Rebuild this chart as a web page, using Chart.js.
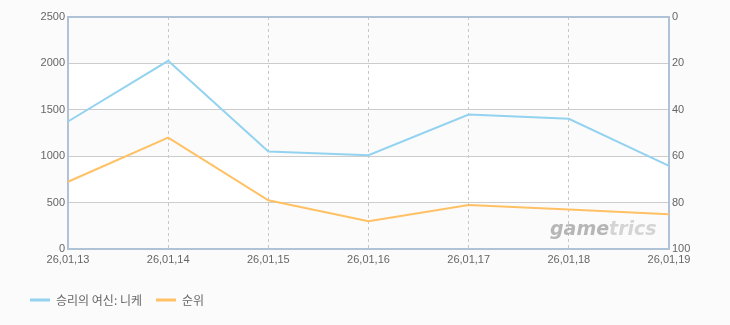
<!DOCTYPE html>
<html>
<head>
<meta charset="utf-8">
<script src="https://cdn.jsdelivr.net/npm/chart.js@4.4.0/dist/chart.umd.min.js"></script>
<style>
	html, body { margin:0; padding:0; background:#fbfbfb; }
	#wrap { width:730px; height:325px; }
</style>
</head>
<body>
<div id="wrap"><canvas id="myChart" width="730" height="325"></canvas></div>
<script>
// data
var dates = ["26,01,13", "26,01,14", "26,01,15", "26,01,16", "26,01,17", "26,01,18", "26,01,19"];
var nikkeValues = [1374, 2028, 1051, 1011, 1449, 1403, 896];
var rankValues = [71, 52, 79, 88, 81, 83, 85];
var seriesNames = ["승리의 여신: 니케", "순위"];

var tickFont = { family:'"Liberation Sans", Arial, sans-serif', size:11 };

// bands, frame and watermark
var decor = {
	id:'decor',
	beforeDraw:function(chart){
		var ctx = chart.ctx, a = chart.chartArea, y = chart.scales.y;
		ctx.save();
		ctx.fillStyle = '#fbfbfb';
		ctx.fillRect(0, 0, chart.width, chart.height);
		for(var v = 0; v < 2500; v += 500){
			var top = y.getPixelForValue(v + 500), bot = y.getPixelForValue(v);
			ctx.fillStyle = (v / 500) % 2 == 0 ? '#fbfbfb' : '#ffffff';
			ctx.fillRect(a.left, top, a.right - a.left, bot - top);
		}
		ctx.restore();
	},
	beforeDatasetsDraw:function(chart){
		var ctx = chart.ctx, a = chart.chartArea;
		ctx.save();
		ctx.font = 'italic bold 19px "DejaVu Sans", sans-serif';
		ctx.textBaseline = 'alphabetic';
		ctx.fillStyle = 'rgba(165,165,165,0.8)';
		ctx.fillText('game', a.right - 119, a.bottom - 14);
		var w = ctx.measureText('game').width;
		ctx.fillStyle = 'rgba(195,195,195,0.7)';
		ctx.fillText('trics', a.right - 119 + w, a.bottom - 14);
		ctx.restore();
	},
	afterDraw:function(chart){
		var ctx = chart.ctx, a = chart.chartArea;
		ctx.save();
		ctx.strokeStyle = '#b0c2d6';
		ctx.lineWidth = 2;
		ctx.beginPath();
		ctx.moveTo(a.left - 1, a.top);
		ctx.lineTo(a.right + 1, a.top);
		ctx.stroke();
		ctx.restore();
	}
};

var ctx = document.getElementById('myChart').getContext('2d');
var chart = new Chart(ctx, {
	type:'line',
	data:{
		labels:dates,
		datasets:[{
			label:seriesNames[0],
			data:nikkeValues,
			borderColor:'#93d3f0',
			backgroundColor:'#93d3f0',
			borderWidth:2,
			pointRadius:0,
			tension:0,
			yAxisID:'y'
		},{
			label:seriesNames[1],
			data:rankValues,
			borderColor:'#ffc163',
			backgroundColor:'#ffc163',
			borderWidth:2,
			pointRadius:0,
			tension:0,
			yAxisID:'y1'
		}]
	},
	options:{
		responsive:false,
		animation:false,
		layout:{ padding:{ left:16, right:0, top:17, bottom:9 } },
		plugins:{
			tooltip:{ enabled:false },
			legend:{
				position:'bottom',
				align:'start',
				labels:{
					boxWidth:20,
					boxHeight:3,
					padding:14,
					color:'#666',
					font:{ family:'"Noto Sans CJK KR", sans-serif', size:12 },
					generateLabels:function(chart){
						return chart.data.datasets.map(function(ds, i){
							return { text:ds.label, fillStyle:ds.borderColor, strokeStyle:ds.borderColor, lineWidth:0, datasetIndex:i, fontColor:'#666' };
						});
					}
				}
			}
		},
		scales:{
			x:{
				offset:false,
				grid:{ color:'#c8c8c8', drawTicks:false },
				border:{ color:'#b0c2d6', width:2, dash:[3,3] },
				ticks:{ color:'#666', font:tickFont, padding:4, maxRotation:0, autoSkip:false },
				afterFit:function(s){ s.height = 31; }
			},
			y:{
				position:'left',
				min:0, max:2500,
				grid:{ color:'#cccccc', drawTicks:false },
				border:{ color:'#b0c2d6', width:2 },
				ticks:{ stepSize:500, color:'#666', font:tickFont, padding:3, callback:function(v){ return String(v); } },
				afterFit:function(s){ s.width = 52; }
			},
			y1:{
				position:'right',
				reverse:true,
				min:0, max:100,
				grid:{ display:false, drawTicks:false },
				border:{ color:'#b0c2d6', width:2 },
				ticks:{ stepSize:20, color:'#666', font:tickFont, padding:3 },
				afterFit:function(s){ s.width = 61; }
			}
		}
	},
	plugins:[decor]
});
</script>
</body>
</html>
